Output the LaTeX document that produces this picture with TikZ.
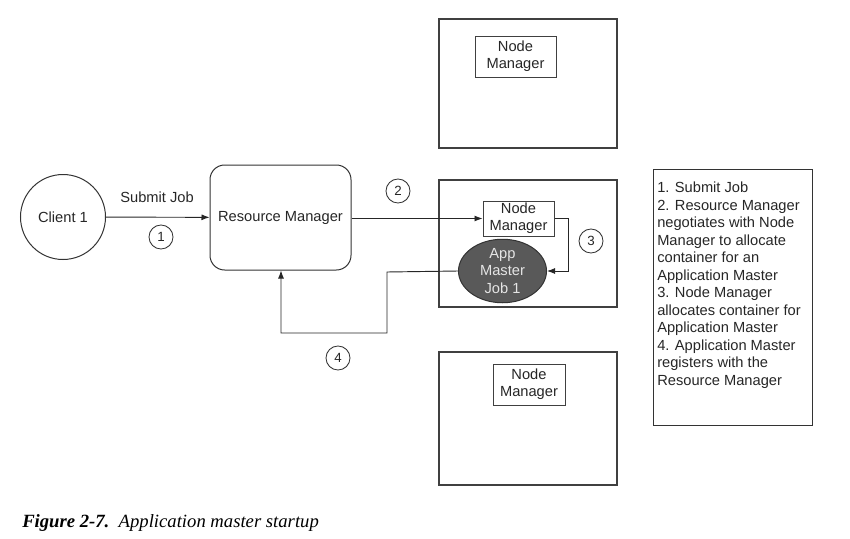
\documentclass[tikz,border=0pt]{standalone}
\usepackage{fontspec}
\setmainfont{Liberation Sans}
\newfontfamily\capfont{Liberation Serif}
\usetikzlibrary{shapes.geometric,arrows.meta}

\begin{document}
\begin{tikzpicture}[
  x=0.75pt, y=-0.75pt,
  every node/.style={text=black!85},
  box/.style={rectangle, draw=black!75, line width=0.9pt},
  nm/.style={rectangle, draw=black!75, line width=0.75pt, align=center, inner sep=0pt},
  step num/.style={circle, draw=black!80, line width=0.65pt, minimum size=18pt, inner sep=0pt, font=\fontsize{10}{11}\selectfont},
  link/.style={draw=black!85, line width=0.7pt, -{Latex[length=6pt,width=4.5pt]}},
  font=\fontsize{11}{13}\selectfont
]
\useasboundingbox (0,0) rectangle (850,539);

% node manager hosts
\draw[box] (439,19) rectangle (617,148);
\draw[box] (439,180) rectangle (617,307);
\draw[box] (439,352) rectangle (617,485);

\node[circle, draw=black!80, line width=0.75pt, minimum size=63.75pt, inner sep=0pt] (client) at (63,217) {Client 1};
\node[rectangle, rounded corners=11pt, draw=black!80, line width=0.75pt, minimum width=105.75pt, minimum height=78.75pt] (rm) at (280.5,217.5) {Resource Manager};

\node[nm, minimum width=60.75pt, minimum height=30.75pt] (nm1) at (515.5,56.5) {Node\\Manager};
\node[nm, minimum width=53.25pt, minimum height=26.25pt] (nm2) at (518.5,218.5) {Node\\Manager};
\node[nm, minimum width=54pt, minimum height=30.75pt] (nm3) at (529,384.5) {Node\\Manager};

\node[ellipse, draw=black!80, fill=black!65, line width=0.75pt, minimum width=66pt, minimum height=43.5pt, inner sep=0pt, align=center, text=black!10] (am) at (502.5,271) {App\\Master\\Job 1};

\node[step num] (s1) at (161,237) {1};
\node[step num] (s2) at (398,191) {2};
\node[step num] (s3) at (591,241) {3};
\node[step num] (s4) at (338,358) {4};

\node (submit) at (157,197) {Submit Job};

% steps
\draw[link] (client) -- (rm);
\draw[link] (rm.east |- nm2.west) -- (nm2.west);
\draw[link] (nm2.east) -- (568,218.5) |- (am.east);
\draw[link] (am.west) -- (387,272) |- (281,333) -- (rm.south -| 281,0);

% legend
\node[rectangle, draw=black!80, line width=0.75pt, minimum width=119.25pt, minimum height=192pt, anchor=north west] (legend) at (653,169) {};
\node[anchor=north west, align=left, inner sep=0pt, font=\fontsize{11}{13.1}\selectfont] (legendtext) at (657,182) {1. Submit Job\\2. Resource Manager\\negotiates with Node\\Manager to allocate\\container for an\\Application Master\\3. Node Manager\\allocates container for\\Application Master\\4. Application Master\\registers with the\\Resource Manager};

\node[anchor=base west, inner sep=0pt, text=black, font=\capfont\fontsize{14}{16}\selectfont] (caption) at (22,527) {\textbf{\textit{Figure 2-7.}}\hspace{0.5em}\textit{Application master startup}};
\end{tikzpicture}
\end{document}
